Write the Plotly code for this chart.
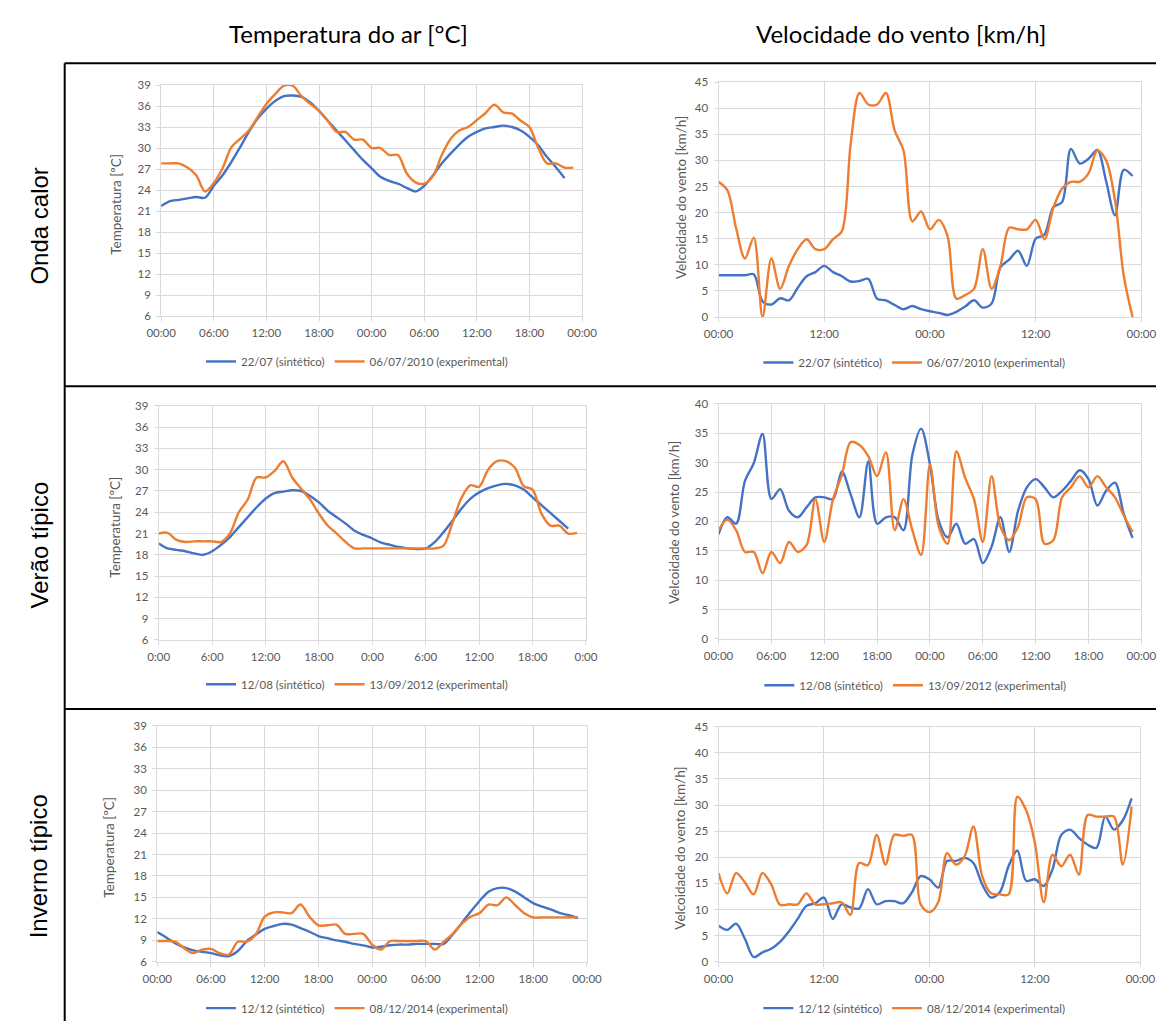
import plotly.graph_objects as go

# ---------------------------------------------------------------------------
# Data: hourly values over two consecutive days (48 h)
# ---------------------------------------------------------------------------
# Onda de calor
heat_temp_sint = [21.7, 22.4, 22.6, 22.8, 23.0, 22.9, 24.6, 26.1, 28.0, 30.1,
                  32.3, 34.2, 35.6, 36.7, 37.4, 37.5, 37.3, 36.5, 35.3, 33.9,
                  32.5, 31.1, 29.7, 28.3, 27.1, 25.9, 25.3, 24.9, 24.3, 23.8,
                  24.6, 26.1, 27.8, 29.2, 30.5, 31.6, 32.3, 32.8, 33.0, 33.2,
                  33.0, 32.5, 31.6, 30.4, 28.7, 27.3, 25.7]
heat_temp_exp = [27.8, 27.8, 27.8, 27.2, 26.1, 23.8, 25.0, 27.1, 30.1, 31.3,
                 32.5, 34.4, 36.3, 37.7, 38.9, 38.9, 37.4, 36.3, 35.3, 33.9,
                 32.3, 32.3, 31.2, 31.2, 30.0, 30.0, 29.0, 29.0, 26.4, 25.1,
                 24.9, 26.0, 29.0, 31.3, 32.5, 33.0, 34.0, 35.0, 36.2, 35.1,
                 34.9, 33.9, 33.0, 30.0, 27.8, 27.8, 27.2, 27.2]
heat_wind_sint = [8.0, 8.0, 8.0, 8.0, 8.2, 3.0, 2.4, 3.6, 3.2, 5.6,
                  7.8, 8.6, 9.8, 8.6, 7.8, 6.8, 6.9, 7.3, 3.5, 3.2,
                  2.3, 1.5, 2.1, 1.5, 1.1, 0.8, 0.4, 1.0, 2.0, 3.2,
                  1.8, 2.6, 9.5, 11.0, 12.7, 9.8, 15.0, 15.8, 21.0, 22.0,
                  32.2, 29.4, 30.3, 32.0, 26.0, 19.5, 28.2, 27.0]
heat_wind_exp = [25.9, 24.3, 17.0, 11.2, 15.2, 0.0, 11.2, 5.4, 9.8, 13.0,
                 14.9, 13.0, 13.0, 14.9, 16.4, 33.1, 42.9, 40.7, 40.7, 42.9,
                 35.7, 31.9, 18.3, 20.2, 16.8, 18.6, 15.5, 3.5, 4.2, 5.4,
                 13.0, 5.4, 9.8, 17.1, 16.8, 16.8, 18.6, 14.9, 20.9, 24.6,
                 25.9, 25.9, 27.5, 31.9, 30.0, 22.4, 7.9, 0.0]

# Verão típico
summer_temp_sint = [19.6, 18.9, 18.7, 18.5, 18.2, 18.0, 18.5, 19.4, 20.5, 21.9,
                    23.3, 24.7, 25.9, 26.7, 26.9, 27.1, 27.0, 26.3, 25.4, 24.2,
                    23.3, 22.4, 21.4, 20.8, 20.3, 19.7, 19.4, 19.1, 18.9, 18.8,
                    18.9, 19.8, 21.2, 22.8, 24.5, 25.9, 26.8, 27.4, 27.8, 28.0,
                    27.8, 27.2, 26.1, 25.0, 23.9, 22.8, 21.7]
summer_temp_exp = [21.0, 21.1, 20.1, 19.8, 19.9, 19.9, 19.9, 19.8, 21.0, 24.0,
                   25.8, 28.9, 28.9, 29.8, 31.2, 28.9, 27.3, 25.8, 23.8, 22.1,
                   21.0, 19.8, 18.9, 18.9, 18.9, 18.9, 18.9, 18.9, 18.9, 18.9,
                   18.9, 18.9, 19.3, 22.5, 26.0, 27.8, 27.6, 30.0, 31.2, 31.2,
                   30.3, 27.7, 27.2, 23.8, 22.1, 22.1, 21.0, 21.1]
summer_wind_sint = [17.8, 20.7, 19.6, 26.9, 29.9, 34.9, 23.8, 25.5, 21.8, 20.7,
                    22.4, 24.1, 24.1, 23.8, 28.5, 24.6, 20.7, 30.2, 19.6, 20.7,
                    20.7, 18.5, 31.3, 35.8, 29.7, 20.1, 17.3, 19.6, 16.2, 17.0,
                    12.9, 15.7, 20.7, 14.8, 21.8, 25.8, 27.2, 25.8, 24.1, 25.2,
                    26.9, 28.7, 27.2, 22.7, 25.2, 26.6, 21.3, 17.2]
summer_wind_exp = [18.5, 20.3, 18.5, 14.8, 14.8, 11.2, 14.8, 12.9, 16.5, 14.8,
                   16.0, 23.8, 16.5, 23.8, 27.9, 33.5, 33.0, 31.1, 27.7, 31.8,
                   18.5, 23.8, 18.5, 14.3, 29.7, 19.1, 16.2, 31.9, 27.4, 23.8,
                   16.5, 27.7, 19.1, 16.8, 19.1, 24.1, 23.8, 16.2, 16.8, 24.1,
                   25.8, 27.7, 25.8, 27.7, 25.8, 24.1, 21.0, 18.2]

# Inverno típico
winter_temp_sint = [10.15, 9.4, 8.6, 8.0, 7.6, 7.4, 7.2, 6.9, 6.8, 7.5,
                    8.9, 9.8, 10.6, 11.0, 11.3, 11.2, 10.7, 10.2, 9.6, 9.3,
                    9.0, 8.8, 8.5, 8.3, 8.0, 8.1, 8.3, 8.4, 8.4, 8.5,
                    8.5, 8.5, 8.5, 9.8, 11.4, 13.0, 14.5, 15.8, 16.3, 16.3,
                    15.8, 15.0, 14.2, 13.7, 13.3, 12.8, 12.5, 12.1]
winter_temp_exp = [8.9, 8.9, 8.8, 7.9, 7.2, 7.7, 7.8, 7.2, 7.0, 8.8,
                   8.8, 9.8, 12.3, 12.9, 12.9, 12.8, 14.0, 12.3, 11.1, 11.1,
                   11.2, 9.9, 9.9, 9.9, 8.4, 7.7, 8.9, 8.9, 8.9, 8.9,
                   8.9, 7.7, 8.8, 9.9, 11.3, 12.3, 12.8, 14.0, 13.9, 15.0,
                   13.9, 12.8, 12.2, 12.2, 12.2, 12.2, 12.2, 12.2]
winter_wind_sint = [6.9, 6.1, 7.3, 4.4, 0.9, 1.8, 2.5, 3.8, 5.8, 8.2,
                    10.7, 11.2, 12.3, 8.2, 11.0, 10.4, 10.2, 13.9, 11.0, 11.6,
                    11.6, 11.2, 13.3, 16.4, 15.8, 14.2, 19.3, 19.3, 19.9, 18.9,
                    14.8, 12.3, 13.3, 18.3, 21.3, 15.5, 15.8, 14.5, 17.7, 24.3,
                    25.3, 23.7, 22.4, 21.8, 27.8, 25.3, 27.1, 31.3]
winter_wind_exp = [17.0, 13.1, 17.0, 15.2, 12.9, 17.0, 14.8, 10.9, 11.0, 11.0,
                   13.1, 11.0, 11.0, 11.2, 11.4, 9.0, 18.9, 18.5, 24.3, 18.6,
                   24.3, 24.1, 24.3, 11.0, 9.5, 11.4, 20.8, 18.6, 20.2, 25.9,
                   16.4, 13.1, 12.9, 12.9, 31.6, 29.0, 22.7, 11.4, 20.5, 18.3,
                   20.5, 16.7, 28.1, 27.8, 27.8, 27.8, 18.6, 29.7]

# Series names
heat_names = ["22/07 (sintético)", "06/07/2010 (experimental)"]
summer_names = ["12/08 (sintético)", "13/09/2012 (experimental)"]
winter_names = ["12/12 (sintético)", "08/12/2014 (experimental)"]

# Time-axis tick labels
ticks_6h = ["00:00", "06:00", "12:00", "18:00", "00:00", "06:00", "12:00", "18:00", "00:00"]
ticks_6h_short = ["0:00", "6:00", "12:00", "18:00", "0:00", "6:00", "12:00", "18:00", "0:00"]
ticks_12h = ["00:00", "12:00", "00:00", "12:00", "00:00"]

# Headings
col_titles = ["Temperatura do ar [°C]", "Velocidade do vento [km/h]"]
row_titles = ["Onda calor", "Verão típico", "Inverno típico"]
temp_ytitle = "Temperatura [ºC]"
wind_ytitle = "Velcoidade do vento [km/h]"

# ---------------------------------------------------------------------------
# Layout
# ---------------------------------------------------------------------------
W, H = 1171, 1027
BLUE = "#4472C4"
ORANGE = "#ED7D31"
GRID = "#d9d9d9"
TXT = "#595959"
FONT = "Lato"


def px(x):
    return x / W


def py(y):
    return 1 - y / H


panels = [
    dict(sint=heat_temp_sint, exp=heat_temp_exp, names=heat_names,
         yr=(6, 39), dy=3, ticks=ticks_6h, step=6, box=(150, 79, 582, 313),
         ytitle=temp_ytitle, tpos=(104, 200), lpos=(351, 359)),
    dict(sint=heat_wind_sint, exp=heat_wind_exp, names=heat_names,
         yr=(0, 45), dy=5, ticks=ticks_12h, step=12, box=(722, 76, 1156, 314),
         ytitle=wind_ytitle, tpos=(683, 193), lpos=(923, 360)),
    dict(sint=summer_temp_sint, exp=summer_temp_exp, names=summer_names,
         yr=(6, 39), dy=3, ticks=ticks_6h_short, step=6, box=(147.5, 404, 586, 641),
         ytitle=temp_ytitle, tpos=(103, 527), lpos=(351, 686)),
    dict(sint=summer_wind_sint, exp=summer_wind_exp, names=summer_names,
         yr=(0, 40), dy=5, ticks=ticks_6h, step=6, box=(722, 402, 1156, 640),
         ytitle=wind_ytitle, tpos=(677, 522), lpos=(924, 687)),
    dict(sint=winter_temp_sint, exp=winter_temp_exp, names=winter_names,
         yr=(6, 39), dy=3, ticks=ticks_6h, step=6, box=(146, 728, 587, 967),
         ytitle=temp_ytitle, tpos=(97, 851), lpos=(351, 1014)),
    dict(sint=winter_wind_sint, exp=winter_wind_exp, names=winter_names,
         yr=(0, 45), dy=5, ticks=ticks_12h, step=12, box=(722, 729, 1155, 967),
         ytitle=wind_ytitle, tpos=(683, 852), lpos=(923, 1014)),
]

fig = go.Figure()
annotations = []
layout_axes = {}

for i, p in enumerate(panels, start=1):
    sfx = "" if i == 1 else str(i)
    leg = "legend" if i == 1 else f"legend{i}"
    x0, y0, x1, y1 = p["box"]

    for vals, name, color in ((p["sint"], p["names"][0], BLUE),
                              (p["exp"], p["names"][1], ORANGE)):
        fig.add_trace(go.Scatter(
            x=list(range(len(vals))), y=vals, name=name, mode="lines",
            line=dict(color=color, width=2.4, shape="spline", smoothing=0.9),
            xaxis="x" + sfx, yaxis="y" + sfx, legend=leg, hoverinfo="skip"))

    layout_axes["xaxis" + sfx] = dict(
        domain=[px(x0), px(x1)], anchor="y" + sfx, range=[0, 48],
        tickvals=list(range(0, 49, p["step"])), ticktext=p["ticks"],
        showgrid=True, gridcolor=GRID, gridwidth=1, zeroline=False,
        showline=True, linecolor=GRID, linewidth=1, mirror=True,
        ticks="outside", ticklen=4, tickcolor=GRID,
        tickfont=dict(family=FONT, size=11.5, color=TXT), ticklabelstandoff=2)
    layout_axes["yaxis" + sfx] = dict(
        domain=[py(y1), py(y0)], anchor="x" + sfx, range=list(p["yr"]),
        dtick=p["dy"], tick0=p["yr"][0],
        showgrid=True, gridcolor=GRID, gridwidth=1, zeroline=False,
        showline=True, linecolor=GRID, linewidth=1, mirror=True,
        ticks="outside", ticklen=4, tickcolor=GRID,
        tickfont=dict(family=FONT, size=11.5, color=TXT), ticklabelstandoff=3)

    layout_axes[leg] = dict(
        orientation="h", x=px(p["lpos"][0]), y=py(p["lpos"][1]),
        xanchor="center", yanchor="middle", bgcolor="rgba(0,0,0,0)",
        font=dict(family=FONT, size=11.5, color=TXT), itemwidth=30,
        traceorder="normal")

    annotations.append(dict(
        text=p["ytitle"], x=px(p["tpos"][0]), y=py(p["tpos"][1]),
        xref="paper", yref="paper", showarrow=False, textangle=-90,
        xanchor="center", yanchor="middle",
        font=dict(family=FONT, size=13.5, color=TXT)))

# Column headings
for text, cx in zip(col_titles, (342, 909)):
    annotations.append(dict(
        text=text, x=px(cx), y=py(27), xref="paper", yref="paper",
        showarrow=False, xanchor="center", yanchor="middle",
        font=dict(family=FONT, size=24, color="#000000")))

# Row headings
for text, cy in zip(row_titles, (222, 545, 870)):
    annotations.append(dict(
        text=text, x=px(25), y=py(cy), xref="paper", yref="paper",
        showarrow=False, textangle=-90, xanchor="center", yanchor="middle",
        font=dict(family="Liberation Sans", size=24, color="#000000")))

# Table rules framing the panels
rules = [(51, 57, 51, H), (51, 57, W, 57), (51, 384, W, 384), (51, 711, W, 711)]
shapes = [dict(type="line", xref="paper", yref="paper",
               x0=px(a), y0=py(b), x1=px(c), y1=py(d),
               line=dict(color="#000000", width=2)) for a, b, c, d in rules]

fig.update_layout(
    width=W, height=H, autosize=False,
    margin=dict(l=0, r=0, t=0, b=0),
    paper_bgcolor="white", plot_bgcolor="white",
    annotations=annotations, shapes=shapes,
    **layout_axes)

fig.write_html("out.html")
